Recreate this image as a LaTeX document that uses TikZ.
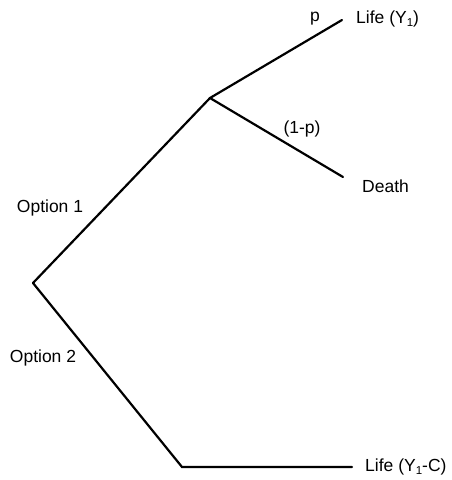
\documentclass[tikz,border=0pt]{standalone}
\usepackage{fontspec}
\setmainfont{Liberation Sans}
% lowered, smaller index digit
\newcommand{\lowidx}[1]{\raisebox{-0.32ex}{\fontsize{11.5}{12}\selectfont #1}}
\begin{document}
\begin{tikzpicture}[x=1pt,y=-1pt,
  branch/.style={line width=2.2pt, line cap=round, line join=miter},
  lbl/.style={font=\fontsize{17.5}{20}\selectfont, inner sep=0pt}]
\useasboundingbox (0,0) rectangle (451,480);
% decision and chance points
\coordinate (root) at (33,283);
\coordinate (chance) at (210,98);
\coordinate (corner) at (182,467);
\coordinate (lifeend) at (342,20);
\coordinate (deathend) at (343,177);
\coordinate (costend) at (352,467);
% branches
\draw[branch] (root) -- (chance);
\draw[branch] (chance) -- (lifeend);
\draw[branch] (chance) -- (deathend);
\draw[branch] (root) -- (corner) -- (costend);
% outcome labels
\node[lbl, anchor=west] (life1) at (356,19) {Life (Y\lowidx{1})};
\node[lbl, anchor=west] (death) at (362,186) {Death};
\node[lbl, anchor=west] (life2) at (365,467) {Life (Y\lowidx{1}-C)};
% branch labels
\node[lbl] (prob) at (315,19) {p};
\node[lbl] (qprob) at (302,129) {(1-p)};
\node[lbl] (opt1) at (50,208) {Option 1};
\node[lbl] (opt2) at (43,358) {Option 2};
\end{tikzpicture}
\end{document}
